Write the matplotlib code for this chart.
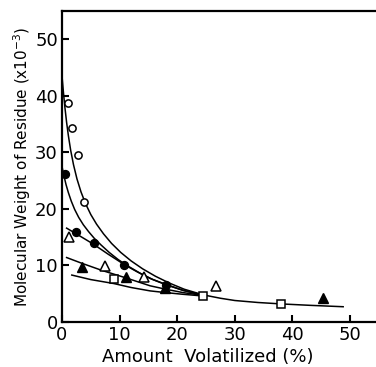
import matplotlib
matplotlib.use("Agg")
import matplotlib.pyplot as plt

# --- data ---
open_circle_x = [1.1, 1.7, 2.7, 3.9]
open_circle_y = [38.7, 34.3, 29.6, 21.2]

filled_circle_x = [0.6, 2.4, 5.6, 10.8, 18.0]
filled_circle_y = [26.1, 16.0, 14.0, 10.1, 6.6]

open_tri_x = [1.3, 7.5, 14.2, 26.7]
open_tri_y = [15.0, 9.9, 8.0, 6.4]

filled_tri_x = [3.4, 11.1, 17.9, 45.3]
filled_tri_y = [9.7, 8.0, 6.0, 4.2]

open_square_x = [9.0, 24.5, 38.0]
open_square_y = [7.6, 4.6, 3.2]

curveA_x = [0, 0.25, 0.5, 0.8, 1.1, 1.5, 2.0, 2.6, 3.3, 4.1, 5.0, 6.0, 7.2, 8.6, 10.2,
            12.0, 14.0, 16.2, 18.6, 21.2, 24.5, 27.5, 30.0, 34.0, 38.0, 43.0, 48.8]
curveA_y = [43.5, 40.6, 38.0, 35.3, 33.0, 30.4, 27.8, 25.3, 23.0, 20.9, 19.0, 17.3, 15.6, 13.9, 12.3,
            10.8, 9.4, 8.1, 6.9, 5.8, 4.8, 4.2, 3.8, 3.45, 3.2, 2.95, 2.7]

curveB_x = [0, 0.3, 0.7, 1.1, 1.6, 2.2, 2.9, 3.7, 4.6, 5.6, 6.8, 8.2, 9.8, 11.6,
            13.6, 15.8, 18.2, 21.0, 24.5]
curveB_y = [27.5, 26.0, 24.3, 22.9, 21.4, 19.9, 18.5, 17.2, 16.0, 14.8, 13.6, 12.3, 11.0, 9.8,
            8.6, 7.5, 6.6, 5.6, 4.75]

curveC_x = [0.8, 2.3, 5.4, 8.0, 10.9, 13.0, 15.3, 18.0, 21.0, 24.5]
curveC_y = [16.6, 15.7, 13.8, 12.0, 10.1, 8.9, 7.7, 6.6, 5.6, 4.7]

curveD_x = [0.8, 3.4, 7.0, 11.1, 15.3, 18.0, 21.0, 24.5]
curveD_y = [11.4, 10.4, 9.1, 7.8, 6.4, 5.8, 5.2, 4.7]

curveE_x = [1.7, 5.0, 9.0, 12.0, 15.3, 18.0, 21.0, 24.5]
curveE_y = [8.3, 7.5, 6.8, 6.1, 5.5, 5.2, 4.9, 4.6]

xticks = [0, 10, 20, 30, 40, 50]
yticks = [0, 10, 20, 30, 40, 50]

plt.rcParams['font.family'] = ['DejaVu Sans']

fig = plt.figure(figsize=(3.76, 3.67), dpi=100)
ax = fig.add_axes([62/376, 1 - 322/367, 1 - 62/376, (322 - 11)/367])

lw = 1.1
for cx, cy in [(curveA_x, curveA_y), (curveB_x, curveB_y), (curveC_x, curveC_y),
               (curveD_x, curveD_y), (curveE_x, curveE_y)]:
    ax.plot(cx, cy, color='black', lw=lw, solid_joinstyle='round', zorder=2)

ms = 5.2
ax.plot(open_circle_x, open_circle_y, 'o', ms=ms, mfc='white', mec='black', mew=1.1, zorder=3)
ax.plot(filled_circle_x, filled_circle_y, 'o', ms=ms + 0.5, mfc='black', mec='black', zorder=3)
ax.plot(open_tri_x, open_tri_y, '^', ms=ms + 1.5, mfc='white', mec='black', mew=1.1, zorder=3)
ax.plot(filled_tri_x, filled_tri_y, '^', ms=ms + 1.5, mfc='black', mec='black', zorder=3)
ax.plot(open_square_x, open_square_y, 's', ms=ms, mfc='white', mec='black', mew=1.1, zorder=3)

ax.set_xlim(0, 54.5)
ax.set_ylim(0, 55)
ax.set_xticks(xticks)
ax.set_yticks(yticks)
ax.tick_params(direction='in', length=5, width=1.5, labelsize=13, pad=3)
ax.spines['right'].set_visible(False)
for s in ['left', 'top', 'bottom']:
    ax.spines[s].set_linewidth(1.6)

ax.set_xlabel('Amount  Volatilized (%)', fontsize=13)
ax.xaxis.set_label_coords(0.465, -0.085)
ax.set_ylabel(r'Molecular Weight of Residue (x$10^{-3}$)', fontsize=11)
ax.yaxis.set_label_coords(-0.092, 0.5)

fig.savefig('out.png', dpi=100)
